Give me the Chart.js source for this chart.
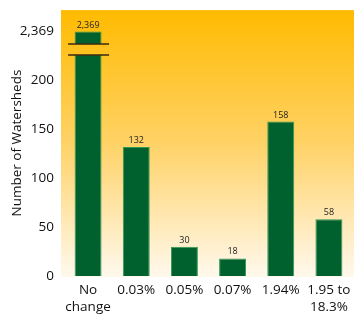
<!DOCTYPE html>
<html>
<head>
<meta charset="utf-8">
<script src="https://cdn.jsdelivr.net/npm/chart.js@4/dist/chart.umd.min.js"></script>
<style>
  html, body { margin: 0; padding: 0; background: #fff; }
  #wrap { width: 362px; height: 322px; }
</style>
</head>
<body>
<div id="wrap"><canvas id="chart"></canvas></div>
<script>
const categories = [["No", "change"], "0.03%", "0.05%", "0.07%", "1.94%", ["1.95 to", "18.3%"]];
const watersheds = [2369, 132, 30, 18, 158, 58];
const yTicks = [0, 50, 100, 150, 200, 2369];

// axis is broken above 200: the span 200..2369 is squeezed into 50 units
const BREAK_AT = 200;
const TOP_VALUE = 2369;
function squeeze(v) {
  if (v <= BREAK_AT) return v;
  return BREAK_AT + (v - BREAK_AT) * 50 / (TOP_VALUE - BREAK_AT);
}

class BrokenScale extends Chart.LinearScale {
  getPixelForValue(value) {
    return super.getPixelForValue(squeeze(value));
  }
}
BrokenScale.id = "broken";
BrokenScale.defaults = Chart.LinearScale.defaults;
Chart.register(BrokenScale);

const FONT = "'Open Sans', sans-serif";

function orangeFade(ctx, area) {
  const g = ctx.createLinearGradient(0, area.top, 0, area.bottom);
  g.addColorStop(0, "#ffbb00");
  g.addColorStop(0.5, "#ffd266");
  g.addColorStop(1, "#fff8ec");
  return g;
}

const plotBackground = {
  id: "plotBackground",
  beforeDraw(chart) {
    const { ctx, chartArea } = chart;
    const left = chartArea.left - 3, right = chartArea.right + 1;
    ctx.save();
    ctx.fillStyle = orangeFade(ctx, chartArea);
    ctx.fillRect(left, chartArea.top, right - left, chartArea.bottom - chartArea.top + 1);
    ctx.restore();
  },
};

const barLabels = {
  id: "barLabels",
  afterDatasetsDraw(chart) {
    const { ctx } = chart;
    const bars = chart.getDatasetMeta(0).data;
    ctx.save();
    ctx.font = "9px " + FONT;
    ctx.fillStyle = "#222";
    ctx.textAlign = "center";
    ctx.textBaseline = "bottom";
    bars.forEach((bar, i) => {
      ctx.fillText(watersheds[i].toLocaleString("en-US"), bar.x, bar.y - 2);
    });

    // break marks across the tall first bar
    const first = bars[0];
    const y1 = first.y + 12.5, y2 = first.y + 23.5;
    ctx.fillStyle = orangeFade(ctx, chart.chartArea);
    ctx.fillRect(first.x - first.width / 2 - 1, y1, first.width + 2, y2 - y1);
    ctx.strokeStyle = "#3a2a10";
    ctx.lineWidth = 1.5;
    ctx.beginPath();
    ctx.moveTo(first.x - 20, y1); ctx.lineTo(first.x + 21, y1);
    ctx.moveTo(first.x - 20, y2); ctx.lineTo(first.x + 21, y2);
    ctx.stroke();
    ctx.restore();
  },
};

new Chart(document.getElementById("chart"), {
  type: "bar",
  data: {
    labels: categories,
    datasets: [
      {
        data: watersheds,
        backgroundColor: "#00612f",
        borderColor: "#2f9a52",
        borderWidth: 1,
        borderSkipped: "bottom",
        barPercentage: 0.56,
        categoryPercentage: 1,
      },
    ],
  },
  options: {
    responsive: true,
    maintainAspectRatio: false,
    animation: false,
    layout: { padding: { top: 9, right: 9, bottom: 0, left: 0 } },
    plugins: {
      legend: { display: false },
      tooltip: { enabled: false },
    },
    scales: {
      x: {
        grid: { display: false },
        border: { display: false },
        afterFit(scale) {
          scale.height = 46;
        },
        ticks: {
          color: "#111",
          font: { family: FONT, size: 13.5, lineHeight: 1.25 },
          padding: -2,
          maxRotation: 0,
          autoSkip: false,
        },
      },
      y: {
        type: "broken",
        min: 0,
        max: 272,
        grid: { display: false },
        border: { display: false },
        afterBuildTicks(scale) {
          scale.ticks = yTicks.map((v) => ({ value: v }));
        },
        afterFit(scale) {
          scale.width = 64;
        },
        ticks: {
          color: "#111",
          font: { family: FONT, size: 13.5 },
          padding: 2,
          callback: (v) => Number(v).toLocaleString("en-US"),
        },
        title: {
          display: true,
          text: "Number of Watersheds",
          color: "#111",
          font: { family: FONT, size: 13.5 },
          padding: { top: 9, bottom: 0 },
        },
      },
    },
  },
  plugins: [plotBackground, barLabels],
});
</script>
</body>
</html>
